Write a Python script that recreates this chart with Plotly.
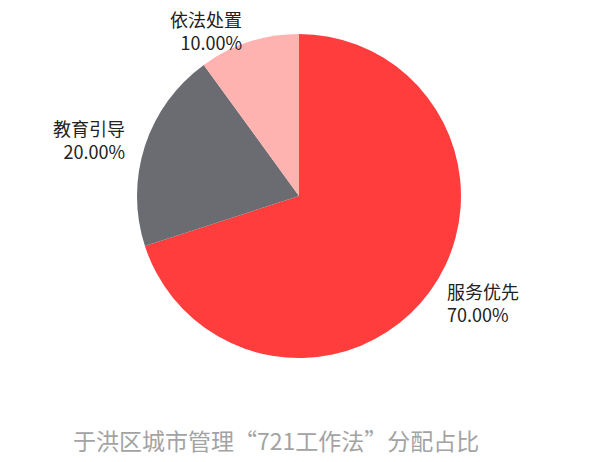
import math
import plotly.graph_objects as go

labels = ["服务优先", "教育引导", "依法处置"]
values = [70, 20, 10]
colors = ["#FF3D3D", "#6B6C71", "#FFB3B0"]
title_text = "于洪区城市管理“721工作法”分配占比"

W, H = 600, 462
OX, OY = -9, -8           # renderer offset compensation
CX, CY, R = 300 + OX, 196 + OY, 162
LABEL_R = 182
LABEL_TOP = 22            # keep label blocks inside the canvas

fig = go.Figure(go.Pie(
    labels=labels,
    values=values,
    marker=dict(colors=colors, line=dict(width=0)),
    sort=False,
    direction="clockwise",
    rotation=0,
    textinfo="none",
    showlegend=False,
    hoverinfo="skip",
    domain=dict(x=[(CX - R) / W, (CX + R) / W],
                y=[1 - (CY + R) / H, 1 - (CY - R) / H]),
))

total = sum(values)
annotations = []
cum = 0
for lab, v in zip(labels, values):
    mid = (cum + v / 2) / total * 2 * math.pi
    cum += v
    px = CX + LABEL_R * math.sin(mid)
    py = max(CY - LABEL_R * math.cos(mid), LABEL_TOP)
    right_side = math.sin(mid) >= 0
    annotations.append(dict(
        text=f"{lab}<br>{v / total * 100:.2f}%",
        x=px / W, y=1 - py / H, xref="paper", yref="paper",
        xanchor="left" if right_side else "right",
        align="left" if right_side else "right",
        yanchor="middle", borderpad=0,
        showarrow=False,
        font=dict(family="Noto Sans CJK SC", size=18, color="#222222"),
    ))

annotations.append(dict(
    text=title_text, x=(277 + OX) / W, y=1 - (440 + OY) / H,
    xref="paper", yref="paper", xanchor="center", yanchor="middle",
    showarrow=False,
    font=dict(family="Noto Sans CJK SC", size=23, color="#A3A3A3"),
))

fig.update_layout(
    width=W, height=H,
    margin=dict(l=0, r=0, t=0, b=0),
    paper_bgcolor="white",
    plot_bgcolor="white",
    annotations=annotations,
)

fig.write_html("out.html")
